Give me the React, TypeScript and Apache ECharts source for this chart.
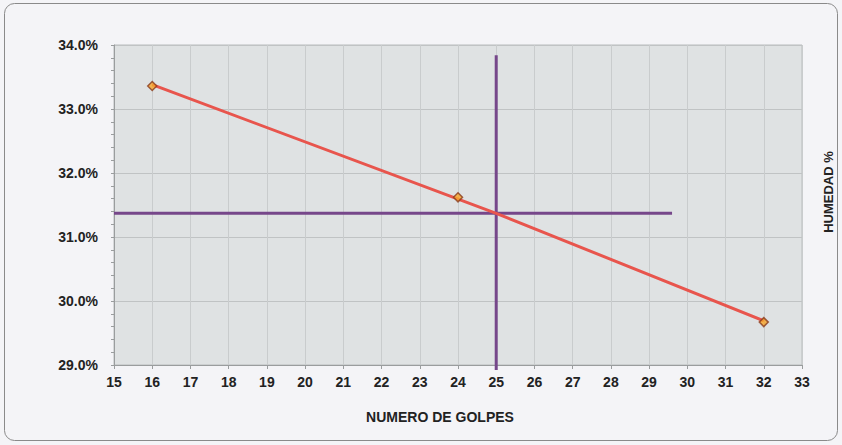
import React, { useEffect, useRef } from "react";
import * as echarts from "echarts";

// Data
const golpes = [16, 24, 32];
const humedad = [33.36, 31.62, 29.67];
const trendGolpes = [16, 25, 32];
const trendHumedad = [33.38, 31.37, 29.69];
const refGolpes = 25;
const refVerticalRange = [28.92, 33.84];
const refHumedad = 31.37;
const refHorizontalRange = [15, 29.6];
const xTicks = { min: 15, max: 33, interval: 1 };
const yTicks = { min: 29, max: 34, interval: 1 };

const FONT = "'Liberation Sans', Arial, sans-serif";

export default function App() {
  const ref = useRef<HTMLDivElement>(null);
  useEffect(() => {
    if (!ref.current) return;
    const chart = echarts.init(ref.current, undefined, { renderer: "svg" });
    chart.setOption({
      animation: false,
      backgroundColor: "#f4f4f7",
      textStyle: { fontFamily: FONT },
      grid: {
        left: 114,
        right: 40,
        top: 45,
        bottom: 80,
        show: true,
        backgroundColor: "#dfe2e3",
        borderColor: "#b9bcbd",
        borderWidth: 1,
      },
      graphic: [
        {
          type: "rect",
          shape: { x: 4.5, y: 3.5, width: 833, height: 437, r: 10 },
          style: { fill: "none", stroke: "#8a8a8a", lineWidth: 1 },
          silent: true,
        },
        {
          type: "text",
          x: 440,
          y: 417,
          style: {
            text: "NUMERO DE GOLPES",
            fill: "#222",
            font: `bold 14px ${FONT}`,
            textAlign: "center",
            textVerticalAlign: "middle",
          },
        },
        {
          type: "text",
          x: 828,
          y: 192,
          rotation: Math.PI / 2,
          style: {
            text: "HUMEDAD %",
            fill: "#222",
            font: `bold 13px ${FONT}`,
            textAlign: "center",
            textVerticalAlign: "middle",
          },
        },
      ],
      xAxis: {
        type: "value",
        min: xTicks.min,
        max: xTicks.max,
        interval: xTicks.interval,
        axisLine: { show: true, lineStyle: { color: "#9a9d9e", width: 1 } },
        axisTick: { show: true, length: 4, lineStyle: { color: "#9a9d9e" } },
        axisLabel: {
          color: "#222",
          fontWeight: "bold",
          fontSize: 14,
          margin: 10,
          fontFamily: FONT,
        },
        splitLine: { show: true, lineStyle: { color: "#c9cccd", width: 1 } },
      },
      yAxis: {
        type: "value",
        min: yTicks.min,
        max: yTicks.max,
        interval: yTicks.interval,
        axisLine: { show: true, lineStyle: { color: "#9a9d9e", width: 1 } },
        axisTick: { show: true, length: 3, lineStyle: { color: "#9a9d9e" } },
        minorTick: { show: true, splitNumber: 5, length: 3, lineStyle: { color: "#9a9d9e" } },
        axisLabel: {
          color: "#222",
          fontWeight: "bold",
          fontSize: 14,
          margin: 16,
          fontFamily: FONT,
          formatter: (v: number) => `${v.toFixed(1)}%`,
        },
        splitLine: { show: true, lineStyle: { color: "#c0c3c4", width: 1 } },
      },
      series: [
        {
          type: "line",
          clip: false,
          symbol: "none",
          data: refHorizontalRange.map((x) => [x, refHumedad]),
          lineStyle: { color: "#76478a", width: 3 },
          z: 2,
        },
        {
          type: "line",
          clip: false,
          symbol: "none",
          data: refVerticalRange.map((y) => [refGolpes, y]),
          lineStyle: { color: "#76478a", width: 3 },
          z: 2,
        },
        {
          type: "line",
          symbol: "none",
          data: trendGolpes.map((x, i) => [x, trendHumedad[i]]),
          lineStyle: { color: "#e8554d", width: 3 },
          z: 3,
        },
        {
          type: "scatter",
          symbol: "diamond",
          symbolSize: 9,
          data: golpes.map((x, i) => [x, humedad[i]]),
          itemStyle: { color: "#f7a62a", borderColor: "#8a3b1c", borderWidth: 1.5 },
          z: 4,
        },
      ],
    });
    return () => chart.dispose();
  }, []);
  return (
    <div
      ref={ref}
      style={{ position: "fixed", left: 0, top: 0, width: 842, height: 445 }}
    />
  );
}
